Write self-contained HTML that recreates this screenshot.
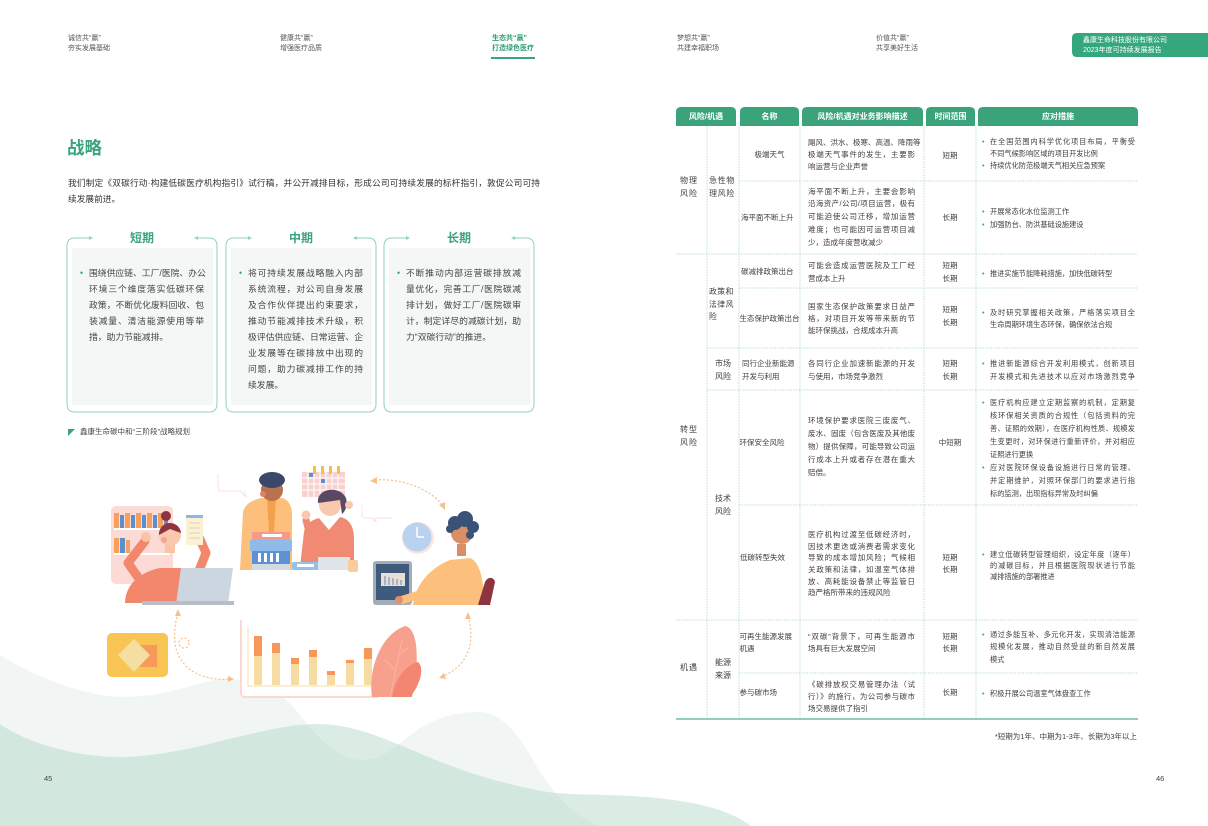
<!DOCTYPE html>
<html><head><meta charset="utf-8">
<style>
*{margin:0;padding:0;box-sizing:border-box}
body{width:1208px;height:826px;position:relative;background:#fff;overflow:hidden;font-family:"Liberation Sans","Noto Sans CJK SC",sans-serif;color:#404040}
.a{position:absolute;white-space:nowrap}
.j{text-align:justify;text-align-last:justify}
.hd{font-size:7px;line-height:10px;color:#555}
.tb{font-size:7.5px;color:#404040}
.m{font-size:7.2px;color:#404040}
.b{position:relative}
.b::before{content:"•";position:absolute;left:-8px;color:#3ba37b}
.bx{font-size:8.8px;line-height:16px;color:#444}
.bx .b::before{left:-9px}
.th{position:absolute;color:#fff;font-size:8px;font-weight:bold;text-align:center;top:111px;line-height:11px}
.c{text-align:center}
</style></head><body>
<svg width="1208" height="826" style="position:absolute;left:0;top:0">
<!-- waves -->
<path d="M0,655 C40,680 90,697 124,697 C170,697 200,680 224,679 C260,678 282,692 300,715 C325,748 345,760 363,760 C385,760 400,742 420,728 C440,716 460,712 478,712 C500,712 515,730 530,755 C550,790 570,815 600,826 L0,826 Z" fill="#f1f6f4"/>
<path d="M0,724 C30,745 80,757 119,757 C190,757 260,724 318,724 C350,724 380,737 400,745 C440,762 480,780 547,792 C590,797 640,792 697,804 C725,810 740,818 751,826 L0,826 Z" fill="rgba(173,213,195,0.45)"/>
<!-- header -->
<rect x="491" y="57" width="44" height="2" fill="#3ba37b"/>
<path d="M1077,33 H1208 V57 H1077 Q1072,57 1072,52 V38 Q1072,33 1077,33 Z" fill="#34a77d"/>
<!-- boxes -->
<g fill="none" stroke="#93d2bb" stroke-width="1">
<path d="M92,238 H75 Q67,238 67,246 V404 Q67,412 75,412 H209 Q217,412 217,404 V246 Q217,238 209,238 H195"/>
<path d="M251,238 H234 Q226,238 226,246 V404 Q226,412 234,412 H368 Q376,412 376,404 V246 Q376,238 368,238 H354"/>
<path d="M409,238 H392 Q384,238 384,246 V404 Q384,412 392,412 H526 Q534,412 534,404 V246 Q534,238 526,238 H512"/>
</g>
<g fill="#93d2bb">
<polygon points="93,238 89,236 89,240"/><polygon points="194,238 198,236 198,240"/>
<polygon points="252,238 248,236 248,240"/><polygon points="353,238 357,236 357,240"/>
<polygon points="410,238 406,236 406,240"/><polygon points="511,238 515,236 515,240"/>
</g>
<rect x="72" y="248" width="141" height="157" fill="#f5f7f6"/>
<rect x="231" y="248" width="141" height="157" fill="#f5f7f6"/>
<rect x="389" y="248" width="141" height="157" fill="#f5f7f6"/>
<polygon points="68,429 75,429 68,436" fill="#3ba37b"/>
<!-- illustration -->
<g>
<rect x="111" y="506" width="62" height="78" rx="5" fill="#fcdad6"/>
<g fill="#f7a05b"><rect x="114" y="513" width="5" height="15"/><rect x="125" y="513" width="5" height="15"/><rect x="136" y="513" width="5" height="15"/><rect x="147" y="513" width="5" height="15"/><rect x="158" y="513" width="5" height="15"/><rect x="114" y="538" width="5" height="15"/><rect x="126" y="540" width="4" height="13"/></g>
<g fill="#5b8fd0"><rect x="120" y="515" width="4" height="13"/><rect x="131" y="515" width="4" height="13"/><rect x="142" y="515" width="4" height="13"/><rect x="153" y="515" width="4" height="13"/><rect x="164" y="515" width="4" height="13"/><rect x="120" y="538" width="5" height="15"/></g>
<rect x="114" y="528" width="56" height="2" fill="#fff"/><rect x="114" y="553" width="56" height="2" fill="#fff"/>
<path d="M125,603 C125,585 140,572 160,568 L190,568 C205,572 212,590 212,603 Z" fill="#f2876c"/>
<path d="M140,580 L128,563 L145,541" stroke="#f2876c" stroke-width="9" fill="none" stroke-linecap="round" stroke-linejoin="round"/>
<path d="M196,578 L206,553 L199,537" stroke="#f2876c" stroke-width="9" fill="none" stroke-linecap="round" stroke-linejoin="round"/>
<circle cx="146" cy="537" r="5" fill="#f9c3a5"/><circle cx="198" cy="533" r="5" fill="#f9c3a5"/>
<rect x="165" y="543" width="10" height="10" fill="#f9c3a5"/>
<circle cx="170" cy="535" r="11" fill="#f9c8ad"/>
<path d="M159,535 A11,11 0 0 1 181,533 L170,529 Z" fill="#8c3440"/>
<circle cx="166" cy="516" r="5" fill="#8c3440"/>
<circle cx="164" cy="540" r="3" fill="#f7a39a"/>
<polygon points="181,568 233,568 228,604 176,604" fill="#ccd6e0"/>
<rect x="142" y="601" width="92" height="4" fill="#b7bec6"/>
<rect x="186" y="515" width="17" height="30" fill="#fdf1d3"/><rect x="186" y="515" width="17" height="3" fill="#8fb6e5"/>
<g stroke="#d9d3c4" stroke-width="1"><line x1="189" y1="523" x2="200" y2="523"/><line x1="189" y1="528" x2="200" y2="528"/><line x1="189" y1="533" x2="200" y2="533"/><line x1="189" y1="538" x2="200" y2="538"/></g>
<path d="M218,474 V487 Q218,491 222,491 H240 L246,497 L244,491" stroke="#fde0dc" fill="none"/>
<!-- center man -->
<path d="M240,570 L243,512 C245,503 255,499 262,498 L282,498 C290,500 292,508 292,515 L292,570 Z" fill="#fcc07c"/>
<polygon points="267,500 276,500 274,532 269,532" fill="#f5a14a"/>
<circle cx="272" cy="490" r="11" fill="#b8724e"/>
<ellipse cx="272" cy="480" rx="13" ry="8" fill="#3b4869"/>
<circle cx="263" cy="494" r="3" fill="#e0806a"/>
<rect x="252" y="532" width="38" height="8" rx="1" fill="#f49a86"/>
<rect x="250" y="540" width="42" height="11" fill="#8fbbe8"/>
<rect x="252" y="551" width="38" height="13" fill="#5d91d6"/>
<g fill="#fff"><rect x="258" y="553" width="3" height="9"/><rect x="264" y="553" width="3" height="9"/><rect x="270" y="553" width="3" height="9"/><rect x="276" y="553" width="3" height="9"/><rect x="262" y="534" width="20" height="3"/></g>
<rect x="252" y="564" width="38" height="6" fill="#d4dae1"/>
<rect x="302" y="472" width="43" height="25" fill="#f9d2cf"/>
<g stroke="#fff" stroke-width="1"><line x1="308" y1="472" x2="308" y2="497"/><line x1="314" y1="472" x2="314" y2="497"/><line x1="320" y1="472" x2="320" y2="497"/><line x1="326" y1="472" x2="326" y2="497"/><line x1="332" y1="472" x2="332" y2="497"/><line x1="338" y1="472" x2="338" y2="497"/><line x1="302" y1="478" x2="345" y2="478"/><line x1="302" y1="484" x2="345" y2="484"/><line x1="302" y1="490" x2="345" y2="490"/></g>
<rect x="309" y="473" width="4" height="4" fill="#5c8fd6"/><rect x="321" y="479" width="4" height="4" fill="#5c8fd6"/><rect x="327" y="491" width="4" height="4" fill="#5c8fd6"/>
<g fill="#f5c04a"><rect x="313" y="466" width="3" height="8"/><rect x="321" y="466" width="3" height="8"/><rect x="329" y="466" width="3" height="8"/><rect x="337" y="466" width="3" height="8"/></g>
<path d="M300,567 L304,532 C306,522 315,518 325,517 L340,517 C350,519 354,527 354,540 L354,567 Z" fill="#f18a73"/>
<polygon points="318,517 340,517 329,530" fill="#fff"/>
<circle cx="330" cy="505" r="11" fill="#f9c8ad"/>
<path d="M318,503 C316,488 340,485 346,498 C348,505 345,512 342,514 L340,500 Z" fill="#5a4964"/>
<path d="M311,540 L306,520" stroke="#f18a73" stroke-width="7" stroke-linecap="round"/>
<circle cx="306" cy="515" r="4.5" fill="#f9c8ad"/><circle cx="349" cy="505" r="4" fill="#f9c8ad"/>
<rect x="292" y="562" width="28" height="8" rx="2" fill="#93c1ea"/><rect x="297" y="564" width="17" height="3" fill="#fff"/>
<rect x="318" y="557" width="32" height="13" fill="#dfe3ea"/><rect x="348" y="560" width="10" height="12" rx="2" fill="#fccb9c"/>
<path d="M362,505 V515 Q362,518 365,518 H372 L376,522 L375,518 H392" stroke="#fde0dc" fill="none"/>
<!-- clock -->
<circle cx="418" cy="538" r="16" fill="#fde4e0"/>
<circle cx="417" cy="537" r="14.5" fill="#b8d2f0"/>
<path d="M417,537 V527 M417,537 H424" stroke="#fff" stroke-width="1.5"/>
<!-- right man -->
<rect x="373" y="561" width="39" height="44" rx="3" fill="#a3adb8"/>
<rect x="376" y="564" width="33" height="36" fill="#3e5b7e"/>
<rect x="381" y="573" width="24" height="13" fill="#e8dfd6"/>
<g fill="#a9b4c2"><rect x="384" y="576" width="2" height="9"/><rect x="388" y="577" width="2" height="8"/><rect x="392" y="578" width="2" height="7"/><rect x="396" y="579" width="2" height="6"/><rect x="400" y="580" width="2" height="5"/></g>
<path d="M413,605 C415,585 430,568 450,560 L470,558 C480,562 484,580 484,605 Z" fill="#fcc07c"/>
<path d="M440,588 L402,600" stroke="#fcc07c" stroke-width="8" stroke-linecap="round"/>
<circle cx="399" cy="600" r="4" fill="#e0906a"/>
<rect x="457" y="544" width="9" height="12" fill="#d98e65"/>
<circle cx="462" cy="533" r="11" fill="#d98e65"/>
<g fill="#3a5275"><circle cx="455" cy="523" r="7"/><circle cx="465" cy="519" r="8"/><circle cx="473" cy="527" r="6"/><circle cx="450" cy="529" r="4"/><circle cx="470" cy="535" r="4"/></g>
<path d="M478,605 L485,582 C488,576 494,577 495,582 L490,605 Z" fill="#8d3440"/>
<!-- dashed arrows -->
<g fill="none" stroke="#f9bf88" stroke-width="1.2" stroke-dasharray="2,2">
<path d="M375,480 C400,478 430,488 443,506"/>
<path d="M178,613 C170,640 175,665 200,675 C210,679 220,680 229,679"/>
<circle cx="184" cy="643" r="5"/>
<path d="M468,616 C475,640 470,665 443,676"/>
</g>
<g fill="#f9bf88">
<polygon points="370,481 377,477 377,484"/><polygon points="445,510 439,505 445,502"/>
<polygon points="178,609 175,616 181,616"/><polygon points="234,679 228,676 228,682"/>
<polygon points="468,612 465,619 471,619"/><polygon points="439,678 444,673 446,679"/>
</g>
<!-- card -->
<rect x="107" y="633" width="61" height="44" rx="5" fill="#f8c454"/>
<rect x="135" y="645" width="22" height="22" fill="#f6995a"/>
<polygon points="134,639 150,655 134,672 118,655" fill="#f5dfa0"/>
<!-- chart -->
<path d="M241,620 V693 Q241,697 245,697 H378" stroke="#fcd8d0" stroke-width="2" fill="#fff"/>
<line x1="248" y1="627" x2="248" y2="686" stroke="#f5dca8" stroke-width="1"/>
<line x1="248" y1="686" x2="377" y2="686" stroke="#f5dca8" stroke-width="1"/>
<g fill="#f6dca0"><rect x="254" y="656" width="8" height="29"/><rect x="272" y="653" width="8" height="32"/><rect x="291" y="664" width="8" height="21"/><rect x="309" y="657" width="8" height="28"/><rect x="327" y="675" width="8" height="10"/><rect x="346" y="663" width="8" height="22"/><rect x="364" y="659" width="8" height="26"/></g>
<g fill="#f7985a"><rect x="254" y="636" width="8" height="20"/><rect x="272" y="643" width="8" height="10"/><rect x="291" y="658" width="8" height="6"/><rect x="309" y="650" width="8" height="7"/><rect x="327" y="671" width="8" height="4"/><rect x="346" y="660" width="8" height="3"/><rect x="364" y="648" width="8" height="11"/></g>
<path d="M372,697 C368,670 380,635 405,626 C418,628 420,660 412,697 Z" fill="#f7a08e"/>
<path d="M392,697 C395,680 405,665 418,662 C425,668 420,685 410,697 Z" fill="#f28670"/>
<path d="M390,697 L402,640 M395,670 L385,660 M398,655 L408,648" stroke="#fbc2b6" stroke-width="0.6" fill="none"/>
</g>
<!-- table header tabs -->
<g fill="#3aa37a">
<path d="M676,126 V112 Q676,107 681,107 H731 Q736,107 736,112 V126 Z"/>
<path d="M740,126 V112 Q740,107 745,107 H794 Q799,107 799,112 V126 Z"/>
<path d="M802,126 V112 Q802,107 807,107 H918 Q923,107 923,112 V126 Z"/>
<path d="M926,126 V112 Q926,107 931,107 H970 Q975,107 975,112 V126 Z"/>
<path d="M978,126 V112 Q978,107 983,107 H1133 Q1138,107 1138,112 V126 Z"/>
</g>
<!-- table lines -->
<g stroke="#a9d9c9" stroke-width="0.8" stroke-dasharray="1.5,1.2" fill="none">
<line x1="707" y1="126" x2="707" y2="719"/>
<line x1="739" y1="126" x2="739" y2="719"/>
<line x1="800" y1="126" x2="800" y2="719"/>
<line x1="924" y1="126" x2="924" y2="719"/>
<line x1="976" y1="126" x2="976" y2="719"/>
<line x1="739" y1="181" x2="1138" y2="181"/>
<line x1="676" y1="254" x2="1138" y2="254"/>
<line x1="739" y1="288" x2="1138" y2="288"/>
<line x1="707" y1="348" x2="1138" y2="348"/>
<line x1="707" y1="390" x2="1138" y2="390"/>
<line x1="739" y1="505" x2="1138" y2="505"/>
<line x1="676" y1="620" x2="1138" y2="620"/>
<line x1="739" y1="673" x2="1138" y2="673"/>
</g>
<rect x="676" y="718" width="462" height="2" fill="#93cfb8"/>
</svg>

<!-- header -->
<div class="a hd" style="left:68px;top:34px">诚信共“赢”<br>夯实发展基础</div>
<div class="a hd" style="left:280px;top:34px">健康共“赢”<br>增强医疗品质</div>
<div class="a hd" style="left:492px;top:34px;color:#2f9e73;font-weight:bold">生态共“赢”<br>打造绿色医疗</div>
<div class="a hd" style="left:677px;top:34px">梦想共“赢”<br>共建幸福职场</div>
<div class="a hd" style="left:876px;top:34px">价值共“赢”<br>共享美好生活</div>
<div class="a hd" style="left:1083px;top:36px;color:#fff">鑫康生命科技股份有限公司<br>2023年度可持续发展报告</div>

<!-- left page -->
<div class="a" style="left:67px;top:137px;font-size:17.5px;line-height:22px;font-weight:bold;color:#3ba37b">战略</div>
<div class="a" style="left:68px;top:175px;font-size:8.7px;line-height:16px;color:#333">
<div class="j" style="width:472px">我们制定《双碳行动·构建低碳医疗机构指引》试行稿，并公开减排目标，形成公司可持续发展的标杆指引，敦促公司可持</div>
<div>续发展前进。</div></div>

<div class="a c" style="left:112px;top:230px;width:60px;font-size:12px;line-height:16px;font-weight:bold;color:#3ba37b">短期</div>
<div class="a c" style="left:271px;top:230px;width:60px;font-size:12px;line-height:16px;font-weight:bold;color:#3ba37b">中期</div>
<div class="a c" style="left:429px;top:230px;width:60px;font-size:12px;line-height:16px;font-weight:bold;color:#3ba37b">长期</div>

<div class="a bx" style="left:89px;top:265px">
<div class="j b" style="width:115px">围绕供应链、工厂/医院、办公</div>
<div class="j" style="width:115px">环境三个维度落实低碳环保</div>
<div class="j" style="width:115px">政策，不断优化废料回收、包</div>
<div class="j" style="width:115px">装减量、清洁能源使用等举</div>
<div>措，助力节能减排。</div></div>
<div class="a bx" style="left:248px;top:265px">
<div class="j b" style="width:115px">将可持续发展战略融入内部</div>
<div class="j" style="width:115px">系统流程，对公司自身发展</div>
<div class="j" style="width:115px">及合作伙伴提出约束要求，</div>
<div class="j" style="width:115px">推动节能减排技术升级，积</div>
<div class="j" style="width:115px">极评估供应链、日常运营、企</div>
<div class="j" style="width:115px">业发展等在碳排放中出现的</div>
<div class="j" style="width:115px">问题，助力碳减排工作的持</div>
<div>续发展。</div></div>
<div class="a bx" style="left:406px;top:265px">
<div class="j b" style="width:115px">不断推动内部运营碳排放减</div>
<div class="j" style="width:115px">量优化，完善工厂/医院碳减</div>
<div class="j" style="width:115px">排计划，做好工厂/医院碳审</div>
<div class="j" style="width:115px">计，制定详尽的减碳计划，助</div>
<div>力“双碳行动”的推进。</div></div>

<div class="a" style="left:80px;top:427px;font-size:7.5px;line-height:10px;color:#444">鑫康生命碳中和“三阶段”战略规划</div>
<div class="a" style="left:44px;top:774px;font-size:7.5px;line-height:10px;color:#444">45</div>
<div class="a" style="left:1156px;top:774px;font-size:7.5px;line-height:10px;color:#444">46</div>

<!-- table header text -->
<div class="th" style="left:676px;width:60px">风险/机遇</div>
<div class="th" style="left:740px;width:59px">名称</div>
<div class="th" style="left:802px;width:121px">风险/机遇对业务影响描述</div>
<div class="th" style="left:926px;width:49px">时间范围</div>
<div class="th" style="left:978px;width:160px">应对措施</div>

<!-- col1 / col2 -->
<div class="a tb" style="left:680px;top:174px;line-height:13px;font-size:8px;letter-spacing:1px">物理<br>风险</div>
<div class="a tb" style="left:709px;top:174px;line-height:13px;font-size:8px;letter-spacing:0.6px">急性物<br>理风险</div>
<div class="a tb" style="left:709px;top:286px;line-height:12.5px;font-size:7.8px;letter-spacing:0.5px">政策和<br>法律风<br>险</div>
<div class="a tb c" style="left:707px;top:356.5px;width:32px;line-height:13px;font-size:8px">市场<br>风险</div>
<div class="a tb" style="left:680px;top:424px;line-height:12.5px;font-size:8px;letter-spacing:1px">转型<br>风险</div>
<div class="a tb c" style="left:707px;top:493px;width:32px;line-height:12.5px;font-size:8px">技术<br>风险</div>
<div class="a tb" style="left:680px;top:662px;line-height:12px;font-size:8px;letter-spacing:1px">机遇</div>
<div class="a tb c" style="left:707px;top:655.5px;width:32px;line-height:13px;font-size:8px">能源<br>来源</div>

<!-- col3 names -->
<div class="a tb c" style="left:739px;top:149px;width:61px;line-height:12px">极端天气</div>
<div class="a tb" style="left:741px;top:212px;line-height:12px">海平面不断上升</div>
<div class="a tb" style="left:741px;top:266px;line-height:12px">碳减排政策出台</div>
<div class="a tb" style="left:739.5px;top:313px;line-height:12px">生态保护政策出台</div>
<div class="a tb" style="left:742px;top:356.5px;line-height:13px">同行企业新能源<br>开发与利用</div>
<div class="a tb" style="left:739.5px;top:437px;line-height:12px">环保安全风险</div>
<div class="a tb" style="left:740px;top:552px;line-height:12px">低碳转型失效</div>
<div class="a tb" style="left:739.5px;top:631px;line-height:12px">可再生能源发展<br>机遇</div>
<div class="a tb" style="left:739.5px;top:687px;line-height:12px">参与碳市场</div>

<!-- col4 desc -->
<div class="a tb" style="left:808px;top:137px;line-height:12px">
<div class="j" style="width:107px">飓风、洪水、极寒、高温、降雨等</div>
<div class="j" style="width:107px">极端天气事件的发生，主要影</div>
<div>响运营与企业声誉</div></div>
<div class="a tb" style="left:808px;top:185.6px;line-height:12.75px">
<div class="j" style="width:107px">海平面不断上升，主要会影响</div>
<div class="j" style="width:107px">沿海资产/公司/项目运营，极有</div>
<div class="j" style="width:107px">可能迫使公司迁移，增加运营</div>
<div class="j" style="width:107px">难度；也可能因可运营项目减</div>
<div>少，造成年度营收减少</div></div>
<div class="a tb" style="left:808px;top:258.5px;line-height:13px">
<div class="j" style="width:107px">可能会造成运营医院及工厂经</div>
<div>营成本上升</div></div>
<div class="a tb" style="left:808px;top:301px;line-height:12px">
<div class="j" style="width:107px">国家生态保护政策要求日益严</div>
<div class="j" style="width:107px">格，对项目开发等带来新的节</div>
<div>能环保挑战，合规成本升高</div></div>
<div class="a tb" style="left:808px;top:356.5px;line-height:13px">
<div class="j" style="width:107px">各同行企业加速新能源的开发</div>
<div>与使用，市场竞争激烈</div></div>
<div class="a tb" style="left:808px;top:413.5px;line-height:13px">
<div class="j" style="width:107px">环境保护要求医院三废废气、</div>
<div class="j" style="width:107px">废水、固废（包含医废及其他废</div>
<div class="j" style="width:107px">物）提供保障，可能导致公司运</div>
<div class="j" style="width:107px">行成本上升或者存在潜在重大</div>
<div>赔偿。</div></div>
<div class="a tb" style="left:808px;top:529.2px;line-height:11.6px">
<div class="j" style="width:107px">医疗机构过渡至低碳经济时，</div>
<div class="j" style="width:107px">因技术更迭或消费者需求变化</div>
<div class="j" style="width:107px">导致的成本增加风险；气候相</div>
<div class="j" style="width:107px">关政策和法律，如温室气体排</div>
<div class="j" style="width:107px">放、高耗能设备禁止等监管日</div>
<div>趋严格所带来的违规风险</div></div>
<div class="a tb" style="left:808px;top:631px;line-height:12px">
<div class="j" style="width:107px">“双碳”背景下，可再生能源市</div>
<div>场具有巨大发展空间</div></div>
<div class="a tb" style="left:808px;top:679px;line-height:12px">
<div class="j" style="width:107px">《碳排放权交易管理办法（试</div>
<div class="j" style="width:107px">行）》的施行，为公司参与碳市</div>
<div>场交易提供了指引</div></div>

<!-- col5 time -->
<div class="a tb c" style="left:924px;top:150px;width:52px;line-height:12px">短期</div>
<div class="a tb c" style="left:924px;top:212px;width:52px;line-height:12px">长期</div>
<div class="a tb c" style="left:924px;top:258.5px;width:52px;line-height:13px">短期<br>长期</div>
<div class="a tb c" style="left:924px;top:302.5px;width:52px;line-height:13px">短期<br>长期</div>
<div class="a tb c" style="left:924px;top:356.5px;width:52px;line-height:13px">短期<br>长期</div>
<div class="a tb c" style="left:924px;top:437px;width:52px;line-height:12px">中短期</div>
<div class="a tb c" style="left:924px;top:552px;width:52px;line-height:11.5px">短期<br>长期</div>
<div class="a tb c" style="left:924px;top:631px;width:52px;line-height:12px">短期<br>长期</div>
<div class="a tb c" style="left:924px;top:687px;width:52px;line-height:12px">长期</div>

<!-- col6 measures -->
<div class="a m" style="left:990px;top:136px;line-height:12px">
<div class="j b" style="width:145px">在全国范围内科学优化项目布局，平衡受</div>
<div>不同气候影响区域的项目开发比例</div>
<div class="b">持续优化防范极端天气相关应急预案</div></div>
<div class="a m" style="left:990px;top:204.5px;line-height:13px">
<div class="b">开展常态化水位监测工作</div>
<div class="b">加强防台、防洪基础设施建设</div></div>
<div class="a m" style="left:990px;top:266.5px;line-height:13px">
<div class="b">推进实施节能降耗措施，加快低碳转型</div></div>
<div class="a m" style="left:990px;top:307px;line-height:12px">
<div class="j b" style="width:145px">及时研究掌握相关政策，严格落实项目全</div>
<div>生命周期环境生态环保，确保依法合规</div></div>
<div class="a m" style="left:990px;top:356.5px;line-height:13px">
<div class="j b" style="width:145px">推进新能源综合开发利用模式，创新项目</div>
<div class="j" style="width:145px">开发模式和先进技术以应对市场激烈竞争</div></div>
<div class="a m" style="left:990px;top:395.5px;line-height:13px">
<div class="j b" style="width:145px">医疗机构应建立定期监察的机制，定期复</div>
<div class="j" style="width:145px">核环保相关资质的合规性（包括资料的完</div>
<div class="j" style="width:145px">善、证照的效期），在医疗机构性质、规模发</div>
<div class="j" style="width:145px">生变更时，对环保进行重新评价，并对相应</div>
<div>证照进行更换</div>
<div class="j b" style="width:145px">应对医院环保设备设施进行日常的管理、</div>
<div class="j" style="width:145px">并定期维护，对照环保部门的要求进行指</div>
<div>标的监测，出现指标异常及时纠偏</div></div>
<div class="a m" style="left:990px;top:548.5px;line-height:11px">
<div class="j b" style="width:145px">建立低碳转型管理组织，设定年度（逐年）</div>
<div class="j" style="width:145px">的减碳目标，并且根据医院现状进行节能</div>
<div>减排措施的部署推进</div></div>
<div class="a m" style="left:990px;top:628.75px;line-height:12.5px">
<div class="j b" style="width:145px">通过多能互补、多元化开发，实现清洁能源</div>
<div class="j" style="width:145px">规模化发展，推动自然受益的新自然发展</div>
<div>模式</div></div>
<div class="a m" style="left:990px;top:686.5px;line-height:13px">
<div class="b">积极开展公司温室气体盘查工作</div></div>

<div class="a tb" style="left:987px;top:731px;width:150px;text-align:right;line-height:12px">*短期为1年、中期为1-3年、长期为3年以上</div>
</body></html>
